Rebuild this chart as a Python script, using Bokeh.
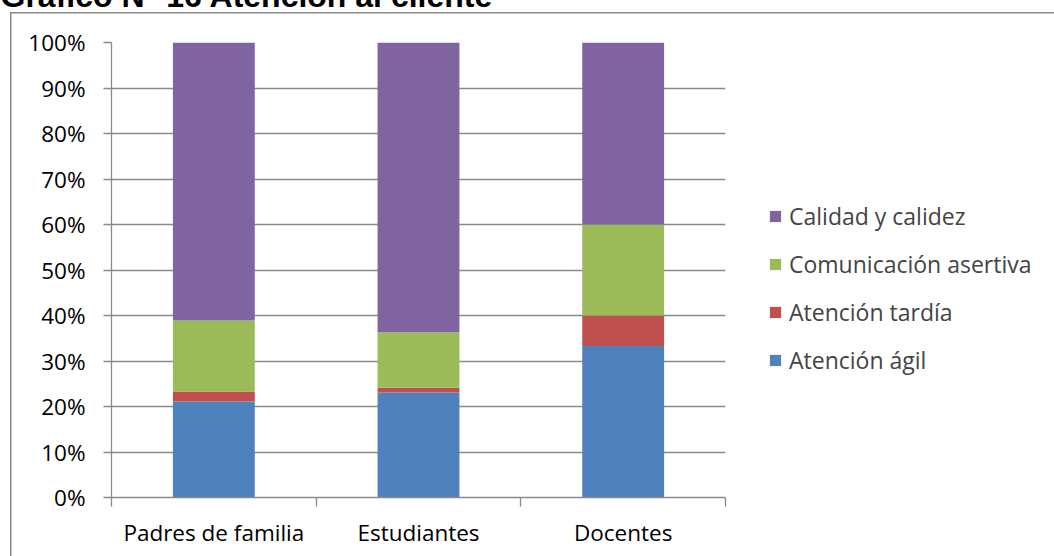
from bokeh.plotting import figure
from bokeh.models import (ColumnDataSource, Range1d, FixedTicker, NumeralTickFormatter,
                          Legend, LegendItem)
from bokeh.embed import file_html
from bokeh.resources import INLINE

# Survey results: share of answers per group
categories = ["Padres de familia", "Estudiantes", "Docentes"]
atencion_agil = [0.211, 0.231, 0.333]
atencion_tardia = [0.022, 0.010, 0.067]
comunicacion_asertiva = [0.156, 0.122, 0.200]
calidad_calidez = [0.611, 0.637, 0.400]

series_keys = ["agil", "tardia", "comunicacion", "calidad"]
series_names = ["Atención ágil", "Atención tardía", "Comunicación asertiva", "Calidad y calidez"]
series_colors = ["#4F81BD", "#C0504D", "#9BBB59", "#8064A2"]
y_ticks = [0.0, 0.1, 0.2, 0.3, 0.4, 0.5, 0.6, 0.7, 0.8, 0.9, 1.0]
title_text = "Gráfico N° 16 Atención al cliente"

FONT = "Open Sans"
GRID = "#8a8a8a"
FS = "22.5px"
SHIFT = 55  # the canvas starts this many pixels above the page top

centers = [i + 0.5 for i in range(len(categories))]
source = ColumnDataSource(dict(
    x=centers,
    agil=atencion_agil,
    tardia=atencion_tardia,
    comunicacion=comunicacion_asertiva,
    calidad=calidad_calidez,
))

p = figure(width=1054, height=556 + SHIFT, frame_width=614, frame_height=455,
           x_range=Range1d(0, len(categories)), y_range=Range1d(0, 1),
           output_backend="svg", toolbar_location=None,
           min_border_left=111, min_border_right=329,
           min_border_top=42 + SHIFT, min_border_bottom=59)
p.outline_line_color = None
p.background_fill_color = "white"
p.border_fill_color = None

# outer chart border (left and top edges visible) painted behind the canvas
line = f"linear-gradient({GRID}, {GRID})"
top = 12 + SHIFT
p.styles = {
    "margin-top": f"-{SHIFT}px",
    "background": (f"{line} 10px {top}px / 1.5px 800px no-repeat, "
                   f"{line} 10px {top}px / 1200px 1.5px no-repeat, white"),
}

renderers = p.vbar_stack(series_keys, x="x", width=0.4, color=series_colors,
                         line_color=None, source=source)

# y axis: percentages with outward ticks
yax = p.yaxis[0]
yax.ticker = FixedTicker(ticks=y_ticks)
yax.formatter = NumeralTickFormatter(format="0%")
yax.major_tick_out = 8
yax.major_tick_in = 0
yax.minor_tick_out = 0
yax.minor_tick_in = 0
yax.axis_line_color = GRID
yax.axis_line_width = 1.3
yax.major_tick_line_color = GRID
yax.major_tick_line_width = 1.3
yax.major_label_standoff = 18
yax.major_label_text_font = FONT
yax.major_label_text_font_size = FS
yax.major_label_text_color = "black"

# x axis: labels at category centers, ticks between categories
xax = p.xaxis[0]
xax.ticker = FixedTicker(ticks=centers,
                         minor_ticks=[float(i) for i in range(len(categories) + 1)])
xax.major_label_overrides = {c: name for c, name in zip(centers, categories)}
xax.major_tick_out = 0
xax.major_tick_in = 0
xax.minor_tick_out = 9
xax.minor_tick_in = 0
xax.minor_tick_line_color = GRID
xax.minor_tick_line_width = 1.3
xax.axis_line_color = GRID
xax.axis_line_width = 1.3
xax.major_label_standoff = 10
xax.major_label_text_font = FONT
xax.major_label_text_font_size = FS
xax.major_label_text_color = "black"
xax.major_label_orientation = "horizontal"

p.xgrid.grid_line_color = None
p.ygrid.ticker = FixedTicker(ticks=y_ticks)
p.ygrid.grid_line_color = GRID
p.ygrid.grid_line_width = 1.3

# legend beside the plot, top series first
items = [LegendItem(label=series_names[i], renderers=[renderers[i]]) for i in range(3, -1, -1)]
legend = Legend(items=items, location=(43, 121), orientation="vertical",
                glyph_width=14, glyph_height=14, label_standoff=7,
                label_height=20, spacing=16, padding=0, margin=0,
                label_text_font=FONT, label_text_font_size="23px",
                border_line_color=None, background_fill_alpha=0)
p.add_layout(legend, "right")

# title at the top edge
p.title.text = title_text
p.title.text_font = "Liberation Sans"
p.title.text_font_style = "bold"
p.title.text_font_size = "32px"
p.title.text_color = "black"
p.title.align = "left"
p.title.vertical_align = "top"
p.title.standoff = 54
p.title.offset = -111

open("out.html", "w").write(file_html(p, INLINE))
